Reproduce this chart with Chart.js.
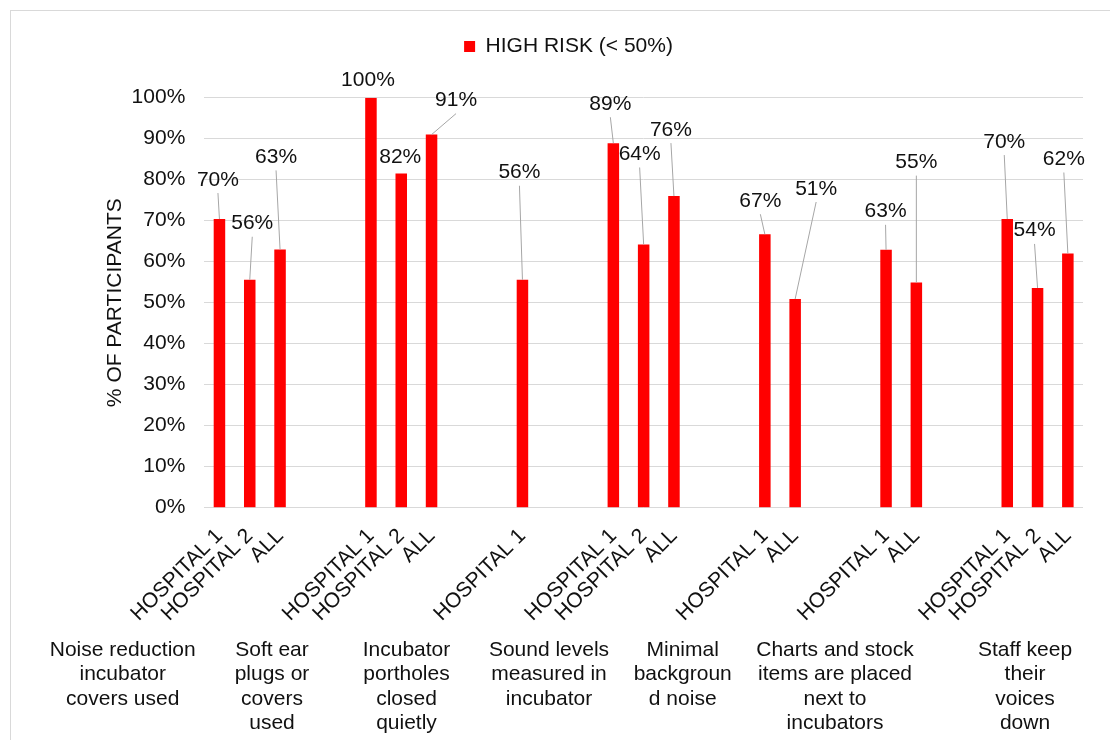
<!DOCTYPE html>
<html>
<head>
<meta charset="utf-8">
<title>Noise risk by hospital</title>
<script src="https://cdn.jsdelivr.net/npm/chart.js@4.4.1/dist/chart.umd.min.js"></script>
<style>
  html, body { margin: 0; padding: 0; background: #fff; overflow: hidden; }
  #wrap { position: relative; width: 1110px; height: 740px; overflow: hidden; }
  #wrap canvas { position: absolute; left: 0; top: 0; }
  #frame { position: absolute; left: 10px; top: 10px; width: 1200px; height: 800px;
           border: 1px solid #d9d9d9; box-sizing: border-box; pointer-events: none; }
</style>
</head>
<body>
<div id="wrap">
  <canvas id="chart" width="1110" height="740"></canvas>
  <div id="frame"></div>
</div>
<script>
// ---- data ----
const seriesName = 'HIGH RISK (< 50%)';

// one slot per bar position; empty strings are spacer slots between questions
const tickLabels = [
  'HOSPITAL 1', 'HOSPITAL 2', 'ALL', '', '',
  'HOSPITAL 1', 'HOSPITAL 2', 'ALL', '', '',
  'HOSPITAL 1', '', '',
  'HOSPITAL 1', 'HOSPITAL 2', 'ALL', '', '',
  'HOSPITAL 1', 'ALL', '', '',
  'HOSPITAL 1', 'ALL', '', '',
  'HOSPITAL 1', 'HOSPITAL 2', 'ALL'
];

// % of participants rated high risk
const highRisk = [
  70.4, 55.6, 63.0, null, null,
  100, 81.5, 91.0, null, null,
  55.6, null, null,
  88.9, 64.2, 76.0, null, null,
  66.7, 50.9, null, null,
  62.9, 54.9, null, null,
  70.4, 53.6, 62.0
];

const questions = [
  ['Noise reduction', 'incubator', 'covers used'],
  ['Soft ear', 'plugs or', 'covers', 'used'],
  ['Incubator', 'portholes', 'closed', 'quietly'],
  ['Sound levels', 'measured in', 'incubator'],
  ['Minimal', 'backgroun', 'd noise'],
  ['Charts and stock', 'items are placed', 'next to', 'incubators'],
  ['Staff keep', 'their', 'voices', 'down']
];

// ---- layout ----
const FONT_FAMILY = '"Liberation Sans", Arial, Helvetica, sans-serif';
const TEXT = '#111111';
const FONT_PX = 21;

// horizontal centres of the question captions under the axis
const questionCenters = [122.7, 272, 406.5, 549, 682.7, 835, 1025];
const questionBaseline = 656;
const questionLineHeight = 24.4;

// value-label offsets [dx, dy] (px) from each bar top; leader lines join label and bar
const labelShift = [
  [-1.5, -41], [2.5, -58], [-4, -94], null, null,
  [-3, -19], [-1, -18], [24.5, -36], null, null,
  [-3, -109], null, null,
  [-3, -41], [-4, -92], [-3, -68], null, null,
  [-4.5, -35], [21, -112], null, null,
  [-0.5, -40], [0, -122], null, null,
  [-3, -79], [-3, -59], [-4, -96]
];

Chart.defaults.font.family = FONT_FAMILY;
Chart.defaults.font.size = FONT_PX;
Chart.defaults.color = TEXT;

// extra room between the legend and the plot
const legendGap = {
  id: 'legendGap',
  beforeInit(chart) {
    const legend = chart.legend;
    if (!legend) return;
    const fit = legend.fit;
    legend.fit = function () { fit.call(this); this.height += 30.7; };
  }
};

// value labels with leader lines
const valueLabels = {
  id: 'valueLabels',
  afterDatasetsDraw(chart) {
    const ctx = chart.ctx;
    const meta = chart.getDatasetMeta(0);
    ctx.save();
    ctx.font = FONT_PX + 'px ' + FONT_FAMILY;
    ctx.textAlign = 'center';
    ctx.textBaseline = 'alphabetic';
    meta.data.forEach((bar, i) => {
      const v = highRisk[i];
      if (v === null || v === undefined) return;
      const shift = labelShift[i] || [0, -18];
      const cx = bar.x + shift[0];
      const cy = bar.y + shift[1];
      const lineTop = cy + 15;
      if (bar.y - lineTop > 8) {
        ctx.strokeStyle = '#a6a6a6';
        ctx.lineWidth = 1;
        ctx.beginPath();
        ctx.moveTo(cx, lineTop);
        ctx.lineTo(bar.x, bar.y);
        ctx.stroke();
      }
      ctx.fillStyle = TEXT;
      ctx.fillText(Math.round(v) + '%', cx, cy + 7.5);
    });
    ctx.restore();
  }
};

// question captions below the rotated tick labels
const questionLabels = {
  id: 'questionLabels',
  afterDraw(chart) {
    const ctx = chart.ctx;
    ctx.save();
    ctx.font = FONT_PX + 'px ' + FONT_FAMILY;
    ctx.fillStyle = TEXT;
    ctx.textAlign = 'center';
    ctx.textBaseline = 'alphabetic';
    questions.forEach((lines, g) => {
      lines.forEach((line, k) => {
        ctx.fillText(line, questionCenters[g], questionBaseline + k * questionLineHeight);
      });
    });
    ctx.restore();
  }
};

new Chart(document.getElementById('chart'), {
  type: 'bar',
  data: {
    labels: tickLabels,
    datasets: [{
      label: seriesName,
      data: highRisk,
      backgroundColor: '#ff0000',
      borderWidth: 0,
      barPercentage: 0.38,
      categoryPercentage: 1
    }]
  },
  options: {
    responsive: false,
    animation: false,
    devicePixelRatio: 1,
    layout: { padding: { left: 54, right: 27, top: 26, bottom: 0 } },
    plugins: {
      legend: {
        position: 'top',
        labels: {
          boxWidth: 11,
          boxHeight: 11,
          padding: 10,
          color: TEXT,
          font: { size: FONT_PX, family: FONT_FAMILY }
        }
      },
      tooltip: { enabled: false }
    },
    scales: {
      x: {
        grid: { display: false, drawTicks: false },
        border: { display: false },
        ticks: {
          autoSkip: false,
          minRotation: 45,
          maxRotation: 45,
          padding: 16,
          color: TEXT,
          font: { size: FONT_PX, family: FONT_FAMILY }
        },
        afterFit(scale) { scale.height = 232.3; }
      },
      y: {
        min: 0,
        max: 100,
        grid: { color: '#d9d9d9', lineWidth: 1, drawTicks: false },
        border: { display: false },
        ticks: {
          stepSize: 10,
          padding: 19,
          color: TEXT,
          font: { size: FONT_PX, family: FONT_FAMILY },
          callback: (v) => v + '%'
        },
        title: {
          display: true,
          text: '% OF PARTICIPANTS',
          color: TEXT,
          font: { size: FONT_PX, family: FONT_FAMILY },
          padding: { top: 48.4, bottom: 0 }
        },
        afterFit(scale) { scale.width = 150.3; }
      }
    }
  },
  plugins: [legendGap, valueLabels, questionLabels]
});
</script>
</body>
</html>
